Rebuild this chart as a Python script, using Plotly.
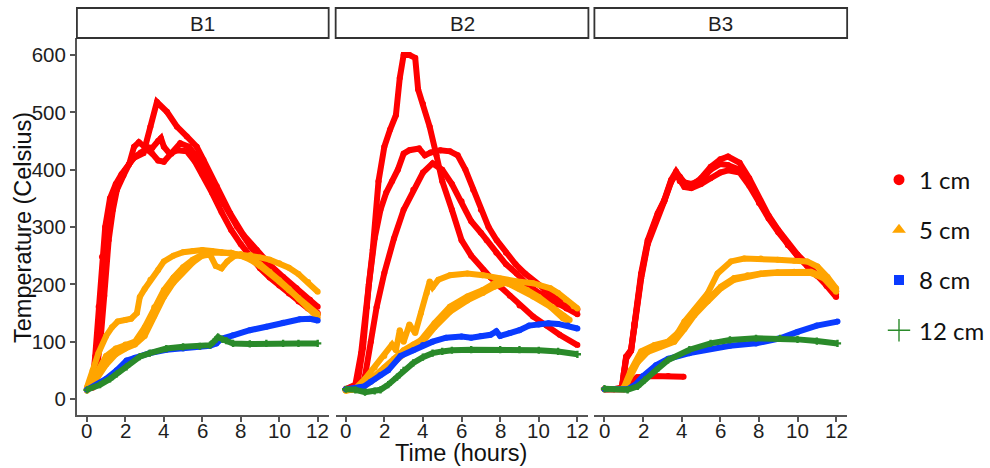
import plotly.graph_objects as go

# ---------------------------------------------------------------
# Temperature logs (hours, degrees Celsius) for three burns B1-B3
# at four depths; several thermocouples per depth.
# ---------------------------------------------------------------
depths = ["1 cm", "5 cm", "8 cm", "12 cm"]
panels = ["B1", "B2", "B3"]
x_ticks = [0, 2, 4, 6, 8, 10, 12]
y_ticks = [0, 100, 200, 300, 400, 500, 600]

# ---- B1 ----
b1_1cm_a_t = [0, 0.3, 0.5, 0.7, 0.9, 1.1, 1.4, 1.7, 2.0, 2.4, 2.94, 3.3, 3.64, 4.16, 4.68, 5.19, 5.71, 6.06, 6.75, 7.45, 8.14, 8.83, 9.52, 10.2, 10.9, 11.6, 12.0]
b1_1cm_a_c = [18, 25, 70, 150, 240, 300, 350, 380, 400, 420, 429, 475, 518, 501, 475, 458, 440, 417, 371, 324, 286, 260, 234, 213, 193, 173, 161]
b1_1cm_b_t = [0, 0.26, 0.43, 0.61, 0.78, 0.95, 1.2, 1.5, 1.8, 2.2, 2.45, 2.7, 3.0, 3.4, 3.7, 3.85, 4.0, 4.3, 4.7, 5.2, 5.6, 6.0, 6.5, 7.0, 7.5, 8.0, 8.5, 9.0, 9.5, 10.0, 10.5, 11.0, 11.5, 12.0]
b1_1cm_b_c = [18, 22, 74, 161, 248, 300, 350, 375, 392, 410, 440, 448, 440, 438, 450, 455, 440, 428, 434, 432, 415, 392, 360, 326, 295, 270, 248, 228, 212, 198, 184, 170, 158, 148]
b1_1cm_c_t = [0, 0.3, 0.5, 0.7, 0.9, 1.13, 1.35, 1.56, 1.9, 2.2, 2.51, 2.8, 3.1, 3.4, 3.7, 4.0, 4.4, 4.85, 5.3, 5.71, 6.4, 7.1, 7.8, 8.5, 9.2, 9.9, 10.7, 11.4, 12.0]
b1_1cm_c_c = [18, 20, 50, 100, 180, 277, 330, 365, 390, 410, 423, 430, 436, 428, 416, 414, 428, 446, 440, 423, 382, 341, 301, 266, 237, 213, 187, 165, 150]

b1_5cm_a_t = [0, 0.3, 0.6, 1.0, 1.3, 1.6, 2.0, 2.3, 2.6, 2.75, 3.0, 3.3, 3.7, 4.0, 4.5, 5.0, 5.5, 6.0, 6.5, 7.0, 7.5, 8.0, 8.5, 9.0, 9.5, 10.0, 10.5, 11.0, 11.5, 12.0]
b1_5cm_a_c = [20, 50, 80, 110, 125, 135, 138, 140, 150, 178, 192, 208, 225, 240, 250, 256, 258, 260, 258, 256, 254, 253, 251, 247, 243, 237, 229, 218, 204, 187]
b1_5cm_b_t = [0, 0.5, 1, 1.5, 2, 2.5, 3, 3.5, 4, 4.5, 5, 5.5, 6, 6.5, 7, 7.5, 8, 8.5, 9, 9.5, 10, 10.5, 11, 11.5, 12]
b1_5cm_b_c = [15, 45, 75, 88, 95, 100, 125, 160, 190, 212, 230, 243, 252, 255, 255, 255, 250, 243, 232, 220, 205, 190, 175, 160, 148]
b1_5cm_c_t = [0, 0.5, 1, 1.5, 2, 2.5, 3, 3.5, 4, 4.5, 5, 5.5, 6, 6.4, 6.7, 7.0, 7.3, 7.7, 8, 8.5, 9, 9.5, 10, 10.5, 11, 11.5, 12]
b1_5cm_c_c = [15, 35, 60, 78, 88, 95, 110, 145, 178, 203, 222, 238, 250, 252, 232, 228, 240, 250, 250, 245, 235, 222, 207, 192, 176, 160, 142]

b1_8cm_t = [0, 0.68, 1.0, 1.55, 2.06, 2.5, 3.27, 4.13, 5.0, 5.87, 6.4, 6.73, 7.0, 7.6, 8.47, 9.33, 10.2, 11.07, 11.6, 12.0]
b1_8cm_c = [16, 27, 35, 50, 67, 72, 80, 86, 88, 91, 93, 97, 105, 111, 120, 126, 133, 139, 140, 137]
b1_12cm_t = [0, 0.68, 1.2, 1.55, 2.06, 2.75, 3.27, 4.13, 5.0, 5.87, 6.4, 6.6, 6.82, 7.05, 7.25, 7.6, 8.47, 9.33, 10.2, 11.0, 12.0]
b1_12cm_c = [16, 25, 35, 44, 56, 74, 80, 88, 91, 92, 94, 100, 108, 104, 102, 97, 96, 97, 97, 97, 97]

# ---- B2 ----
b2_1cm_a_t = [0, 0.5, 0.8, 1.1, 1.4, 1.7, 2.0, 2.3, 2.6, 2.8, 3.0, 3.3, 3.6, 3.75, 4.0, 4.35, 4.7, 5.0, 5.5, 6.0, 6.5, 7.13, 7.5, 8.0, 8.5, 9.0, 9.7, 10.4, 11.08, 12.0]
b2_1cm_a_c = [17, 25, 80, 160, 260, 380, 440, 470, 495, 560, 600, 600, 595, 540, 515, 475, 425, 380, 330, 277, 250, 225, 212, 196, 180, 163, 144, 128, 112, 94]
b2_1cm_b_t = [0, 0.6, 0.9, 1.2, 1.5, 1.8, 2.1, 2.4, 2.7, 3.0, 3.3, 3.8, 4.1, 4.4, 4.9, 5.4, 5.8, 6.2, 6.6, 7.0, 7.4, 7.82, 8.3, 8.8, 9.28, 9.8, 10.3, 10.8, 11.3, 11.77, 12.0]
b2_1cm_b_c = [17, 25, 90, 200, 280, 330, 360, 380, 400, 428, 434, 437, 425, 430, 434, 432, 425, 400, 365, 330, 300, 277, 255, 235, 219, 204, 190, 178, 168, 161, 156]
b2_1cm_c_t = [0, 0.8, 1.0, 1.3, 1.6, 2.0, 2.5, 3.0, 3.5, 4.0, 4.5, 5.0, 5.5, 6.0, 6.5, 7.0, 7.3, 7.8, 8.3, 8.85, 9.4, 10.0, 10.5, 11.0, 11.43, 12.0]
b2_1cm_c_c = [17, 20, 40, 100, 160, 220, 280, 330, 365, 395, 411, 400, 375, 345, 310, 290, 277, 255, 235, 219, 200, 185, 175, 165, 158, 148]

b2_5cm_a_t = [0, 0.5, 1.0, 1.5, 2.0, 2.4, 2.6, 2.8, 3.0, 3.3, 3.6, 3.9, 4.2, 4.35, 4.5, 4.8, 5.4, 6.3, 7.1, 8.0, 8.9, 9.7, 10.6, 11.0, 11.4, 11.8, 12.0]
b2_5cm_a_c = [15, 18, 35, 55, 75, 95, 85, 120, 100, 130, 115, 150, 185, 205, 195, 208, 216, 219, 216, 210, 205, 202, 193, 185, 173, 162, 158]
b2_5cm_b_t = [0, 0.8, 1.5, 2.0, 2.5, 3.0, 3.5, 3.9, 4.6, 5.4, 6.3, 7.1, 7.7, 8.0, 8.5, 9.0, 9.7, 10.6, 11.25, 11.5]
b2_5cm_b_c = [15, 18, 40, 55, 70, 85, 95, 103, 132, 161, 179, 190, 202, 205, 200, 192, 179, 161, 141, 137]
b2_5cm_c_t = [0, 0.8, 1.5, 2.0, 2.5, 3.0, 3.5, 4.0, 4.6, 5.4, 6.3, 7.1, 7.7, 8.3, 8.8, 9.4, 10.0, 10.7, 11.3, 11.6]
b2_5cm_c_c = [15, 18, 35, 50, 65, 80, 92, 100, 125, 152, 172, 185, 196, 203, 200, 190, 178, 160, 145, 138]

b2_8cm_t = [0, 0.7, 0.95, 1.3, 1.8, 2.2, 2.84, 3.5, 4.0, 4.5, 5.2, 6.0, 6.5, 7.0, 7.5, 7.8, 8.0, 8.5, 9.0, 9.5, 10.0, 10.5, 11.0, 11.5, 12.0]
b2_8cm_c = [17, 20, 22, 30, 42, 50, 75, 85, 94, 100, 107, 109, 107, 110, 112, 118, 110, 115, 120, 128, 130, 132, 131, 128, 123]
b2_12cm_t = [0, 0.5, 1.0, 1.5, 1.8, 2.2, 2.66, 3.0, 3.5, 4.0, 4.5, 5.0, 5.5, 6.5, 8.0, 9.0, 10.0, 11.0, 12.0]
b2_12cm_c = [17, 16, 12, 14, 16, 25, 38, 50, 63, 73, 80, 83, 85, 86, 86, 86, 85, 83, 78]

# ---- B3 ----
b3_1cm_t = [0, 0.5, 0.9, 1.0, 1.12, 1.38, 1.55, 1.9, 2.24, 2.76, 3.1, 3.45, 3.71, 3.9, 4.14, 4.5, 5.0, 5.5, 6.0, 6.4, 7.0, 7.5, 8.0, 8.5, 9.0, 9.5, 10.0, 10.5, 11.0, 11.5, 12.0]
b3_1cm_a_c = [17, 17, 20, 45, 74, 86, 132, 219, 277, 324, 347, 382, 397, 385, 375, 372, 385, 405, 418, 423, 412, 385, 350, 320, 295, 272, 252, 235, 218, 198, 178]
b3_1cm_b_c = [17, 17, 18, 40, 70, 84, 125, 210, 270, 320, 345, 378, 393, 388, 378, 375, 382, 400, 410, 408, 400, 378, 345, 318, 293, 270, 250, 233, 215, 197, 183]
b3_1cm_c_c = [17, 17, 18, 42, 72, 85, 128, 214, 273, 322, 346, 380, 392, 380, 370, 368, 375, 385, 395, 399, 395, 372, 342, 315, 291, 268, 249, 232, 216, 200, 188]
b3_1cm_d_t = [0, 1.0, 1.4, 1.7, 2.5, 3.3, 4.1]
b3_1cm_d_c = [17, 17, 30, 38, 40, 40, 39]

b3_5cm_a_t = [0, 0.9, 1.03, 1.38, 1.9, 2.59, 3.28, 3.79, 4.14, 4.66, 5.34, 5.86, 6.55, 7.24, 8.1, 8.97, 9.83, 10.5, 11.03, 11.55, 12.0]
b3_5cm_a_c = [17, 17, 22, 51, 83, 94, 100, 115, 135, 155, 184, 219, 240, 245, 245, 243, 241, 240, 231, 213, 193]
b3_5cm_bc_t = [0, 1.0, 1.2, 1.72, 2.24, 2.93, 3.62, 4.14, 4.66, 5.34, 6.03, 6.72, 7.41, 8.1, 8.97, 9.83, 10.69, 11.38, 12.0]
b3_5cm_b_c = [17, 17, 33, 68, 85, 94, 103, 126, 150, 173, 196, 211, 216, 219, 221, 222, 222, 213, 190]
b3_5cm_c_c = [17, 17, 30, 64, 82, 92, 100, 122, 146, 170, 193, 208, 214, 218, 220, 221, 220, 210, 187]

b3_8cm_t = [0, 1.2, 1.6, 2.0, 2.67, 3.3, 4.4, 5.5, 6.5, 7.85, 9.1, 10.0, 11.0, 12.07]
b3_8cm_c = [17, 17, 25, 40, 59, 70, 80, 88, 93, 97, 106, 117, 128, 135]
b3_12cm_t = [0, 1.2, 1.72, 2.07, 2.67, 3.3, 4.4, 5.5, 6.5, 7.85, 9.1, 10.0, 11.0, 12.07]
b3_12cm_c = [18, 16, 22, 33, 50, 68, 86, 97, 103, 106, 106, 104, 101, 97]

# series per panel, in drawing order (1 cm first, 12 cm on top)
series = {
    "B1": [
        ("1 cm", b1_1cm_a_t, b1_1cm_a_c), ("1 cm", b1_1cm_b_t, b1_1cm_b_c), ("1 cm", b1_1cm_c_t, b1_1cm_c_c),
        ("5 cm", b1_5cm_a_t, b1_5cm_a_c), ("5 cm", b1_5cm_b_t, b1_5cm_b_c), ("5 cm", b1_5cm_c_t, b1_5cm_c_c),
        ("8 cm", b1_8cm_t, b1_8cm_c), ("12 cm", b1_12cm_t, b1_12cm_c),
    ],
    "B2": [
        ("1 cm", b2_1cm_a_t, b2_1cm_a_c), ("1 cm", b2_1cm_b_t, b2_1cm_b_c), ("1 cm", b2_1cm_c_t, b2_1cm_c_c),
        ("5 cm", b2_5cm_a_t, b2_5cm_a_c), ("5 cm", b2_5cm_b_t, b2_5cm_b_c), ("5 cm", b2_5cm_c_t, b2_5cm_c_c),
        ("8 cm", b2_8cm_t, b2_8cm_c), ("12 cm", b2_12cm_t, b2_12cm_c),
    ],
    "B3": [
        ("1 cm", b3_1cm_t, b3_1cm_a_c), ("1 cm", b3_1cm_t, b3_1cm_b_c), ("1 cm", b3_1cm_t, b3_1cm_c_c),
        ("1 cm", b3_1cm_d_t, b3_1cm_d_c),
        ("5 cm", b3_5cm_a_t, b3_5cm_a_c), ("5 cm", b3_5cm_bc_t, b3_5cm_b_c), ("5 cm", b3_5cm_bc_t, b3_5cm_c_c),
        ("8 cm", b3_8cm_t, b3_8cm_c), ("12 cm", b3_12cm_t, b3_12cm_c),
    ],
}

colors = {"1 cm": "#FF0000", "5 cm": "#FFA500", "8 cm": "#0A3BFF", "12 cm": "#2A8A2A"}
symbols = {"1 cm": "circle", "5 cm": "triangle-up", "8 cm": "square", "12 cm": "cross-thin-open"}
legend_sizes = {"1 cm": 11, "5 cm": 12, "8 cm": 10, "12 cm": 16}

W, H = 990, 468
panel_px = [(77, 329), (336, 589), (595, 848)]
plot_top, plot_bottom = 38, 415
strip_top = 8
x_label_row = 430  # vertical centre of the hour labels, px from top

TEXT_FAMILY = "Liberation Sans, Arial, sans-serif"
TICK_FONT = dict(family=TEXT_FAMILY, size=20.5, color="#1e1e1e")
AXIS_COLOR = "#555555"

fig = go.Figure()

for i, panel in enumerate(panels):
    xa = "x" if i == 0 else f"x{i + 1}"
    ya = "y" if i == 0 else f"y{i + 1}"
    for depth, t, c in series[panel]:
        fig.add_trace(go.Scatter(
            x=t, y=c, xaxis=xa, yaxis=ya, mode="lines+markers",
            line=dict(color=colors[depth], width=6),
            marker=dict(color=colors[depth], size=6,
                        symbol="circle" if depth != "12 cm" else "cross"),
            showlegend=False, hoverinfo="skip",
        ))

# legend entries
for depth in depths:
    mk = dict(color=colors[depth], size=legend_sizes[depth], symbol=symbols[depth])
    if depth == "12 cm":
        mk["line"] = dict(color=colors[depth], width=1.4)
    fig.add_trace(go.Scatter(
        x=[None], y=[None], mode="markers", name=depth, marker=mk,
        legendgroup=depth, showlegend=True,
    ))

layout = dict(
    width=W, height=H,
    margin=dict(l=0, r=0, t=0, b=0),
    paper_bgcolor="white", plot_bgcolor="white",
    showlegend=True,
    legend=dict(
        x=0.889, xanchor="left", y=0.455, yanchor="middle",
        font=dict(family="Lato, Noto Sans, sans-serif", size=24, color="#111111"),
        tracegroupgap=16, itemsizing="trace", bgcolor="rgba(0,0,0,0)",
    ),
)

y_dom = [(H - plot_bottom) / H, (H - plot_top) / H]
for i in range(3):
    x0, x1 = panel_px[i]
    key_x = "xaxis" if i == 0 else f"xaxis{i + 1}"
    key_y = "yaxis" if i == 0 else f"yaxis{i + 1}"
    ya = "y" if i == 0 else f"y{i + 1}"
    xa = "x" if i == 0 else f"x{i + 1}"
    layout[key_x] = dict(
        domain=[x0 / W, x1 / W], anchor=ya, range=[-0.52, 12.57],
        tickmode="array", tickvals=x_ticks, showticklabels=False,
        showline=True, linecolor=AXIS_COLOR, linewidth=1.8,
        ticks="outside", ticklen=5, tickwidth=1.5, tickcolor=AXIS_COLOR,
        showgrid=False, zeroline=False, fixedrange=True,
    )
    ydict = dict(
        domain=y_dom, anchor=xa, range=[-27.9, 629.7],
        showgrid=False, zeroline=False, fixedrange=True,
    )
    if i == 0:
        ydict.update(
            tickmode="array", tickvals=y_ticks, ticktext=[str(v) for v in y_ticks],
            showline=True, linecolor=AXIS_COLOR, linewidth=1.8,
            ticks="outside", ticklen=5, tickwidth=1.5, tickcolor=AXIS_COLOR,
            tickfont=TICK_FONT,
        )
    else:
        ydict.update(showticklabels=False, showline=False, ticks="", matches="y")
    layout[key_y] = ydict

fig.update_layout(**layout)

# facet strips and hour labels
shapes, annotations = [], []
for i, panel in enumerate(panels):
    xref = "x domain" if i == 0 else f"x{i + 1} domain"
    xdata = "x" if i == 0 else f"x{i + 1}"
    shapes.append(dict(
        type="rect", xref=xref, yref="paper",
        x0=0, x1=1, y0=(H - plot_top) / H, y1=(H - strip_top) / H,
        line=dict(color="#333333", width=1.8), fillcolor="white", layer="above",
    ))
    annotations.append(dict(
        text=panel, xref=xref, yref="paper", x=0.5,
        y=(H - (plot_top + strip_top) / 2) / H, showarrow=False,
        xanchor="center", yanchor="middle",
        font=dict(family=TEXT_FAMILY, size=20.5, color="#1e1e1e"),
    ))
    for v in x_ticks:
        annotations.append(dict(
            text=str(v), xref=xdata, yref="paper", x=v, y=(H - x_label_row) / H,
            showarrow=False, xanchor="center", yanchor="middle", font=TICK_FONT,
        ))

annotations.append(dict(
    text="Time (hours)", xref="paper", yref="paper", x=461.5 / W, y=(H - 453) / H,
    showarrow=False, xanchor="center", yanchor="middle",
    font=dict(family=TEXT_FAMILY, size=23.5, color="#111111"),
))
annotations.append(dict(
    text="Temperature (Celsius)", xref="paper", yref="paper", x=23 / W, y=(H - 227) / H,
    showarrow=False, xanchor="center", yanchor="middle", textangle=-90,
    font=dict(family=TEXT_FAMILY, size=23.5, color="#111111"),
))

fig.update_layout(shapes=shapes, annotations=annotations)
fig.write_html("out.html")
